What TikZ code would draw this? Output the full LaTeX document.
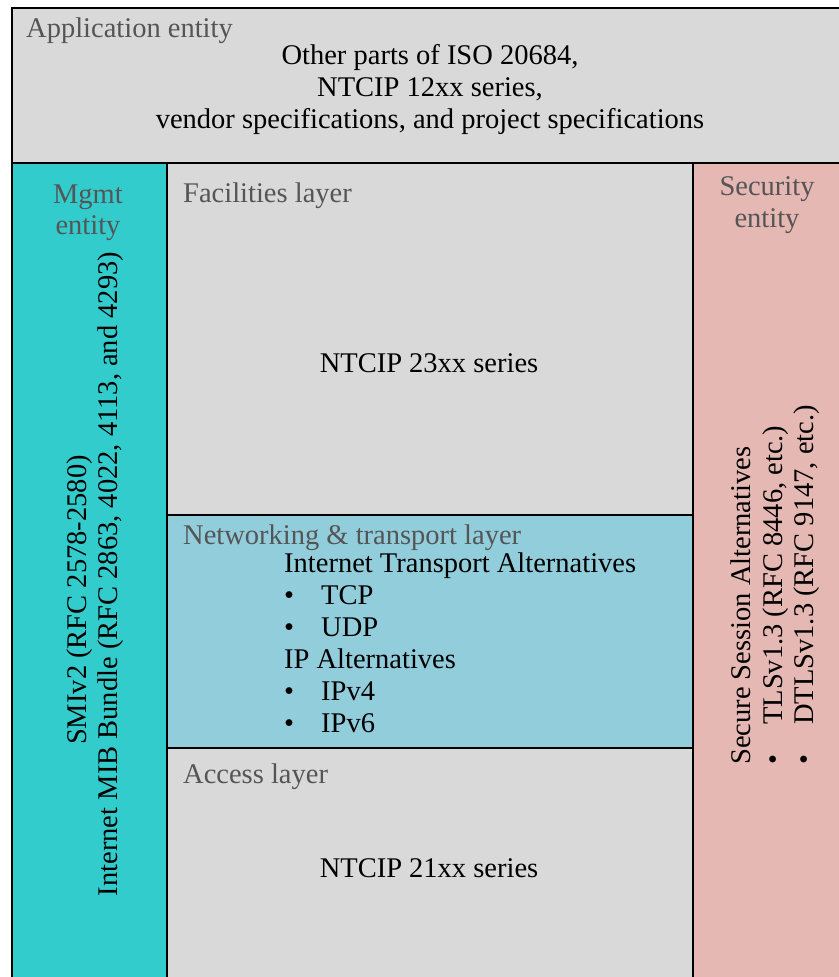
\documentclass[tikz,border=0pt]{standalone}
\usepackage{fontspec}
\setmainfont{Liberation Serif}
\definecolor{gbg}{HTML}{D9D9D9}
\definecolor{mgmtcol}{HTML}{33CCCC}
\definecolor{netcol}{HTML}{92CDDC}
\definecolor{seccol}{HTML}{E5B8B3}
\definecolor{labcol}{HTML}{555555}
\newcommand\bulitem[1]{\makebox[#1][l]{\textbullet}}
\begin{document}
\begin{tikzpicture}[x=1pt,y=-1pt,
  box/.style={draw=black,line width=2.4pt},
  txt/.style={inner sep=0pt,font=\fontsize{28.5}{32}\selectfont,text=black},
  lab/.style={txt,text=labcol}]
\useasboundingbox (0,0) rectangle (838,977);
\fill[white] (0,0) rectangle (838,977);
% boxes
\draw[box,fill=gbg] (12,8) rectangle (850,163);
\draw[box,fill=mgmtcol] (12,163) rectangle (167,990);
\draw[box,fill=gbg] (167,163) rectangle (693,515);
\draw[box,fill=netcol] (167,515) rectangle (693,748);
\draw[box,fill=gbg] (167,748) rectangle (693,990);
\draw[box,fill=seccol] (693,163) rectangle (850,990);
% application entity
\node[lab,anchor=base west] (applab) at (26,37) {Application entity};
\node[txt,anchor=base] (app1) at (430,64) {Other parts of ISO 20684,};
\node[txt,anchor=base] (app2) at (430,96) {NTCIP 12xx series,};
\node[txt,anchor=base] (app3) at (430,128) {vendor specifications, and project specifications};
% management entity
\node[lab,anchor=base] (mg1) at (88,203) {Mgmt};
\node[lab,anchor=base] (mg2) at (88,234) {entity};
\node[txt,anchor=base,rotate=90] (smi) at (86,600) {SMIv2 (RFC 2578-2580)};
\node[txt,anchor=base,rotate=90] (mib) at (117,574) {Internet MIB Bundle (RFC 2863, 4022, 4113, and 4293)};
% facilities
\node[lab,anchor=base west] (faclab) at (183,202) {Facilities layer};
\node[txt,anchor=base] (fac) at (429,372) {NTCIP 23xx series};
% networking
\node[lab,anchor=base west] (netlab) at (183,544) {Networking \& transport layer};
\node[txt,anchor=base west] (n1) at (284,572) {Internet Transport Alternatives};
\node[txt,anchor=base west] (n2) at (284,604) {\bulitem{37pt}TCP};
\node[txt,anchor=base west] (n3) at (284,636) {\bulitem{37pt}UDP};
\node[txt,anchor=base west] (n4) at (284,668) {IP Alternatives};
\node[txt,anchor=base west] (n5) at (284,700) {\bulitem{37pt}IPv4};
\node[txt,anchor=base west] (n6) at (284,732) {\bulitem{37pt}IPv6};
% access
\node[lab,anchor=base west] (acclab) at (183,783) {Access layer};
\node[txt,anchor=base] (acc) at (429,877) {NTCIP 21xx series};
% security
\node[lab,anchor=base] (se1) at (767,195) {Security};
\node[lab,anchor=base] (se2) at (767,227) {entity};
\node[txt,anchor=base west,rotate=90] (s1) at (750,765) {Secure Session Alternatives};
\node[txt,anchor=base west,rotate=90] (s2) at (782,765) {\bulitem{40pt}TLSv1.3 (RFC 8446, etc.)};
\node[txt,anchor=base west,rotate=90] (s3) at (813,765) {\bulitem{40pt}DTLSv1.3 (RFC 9147, etc.)};
\end{tikzpicture}
\end{document}
